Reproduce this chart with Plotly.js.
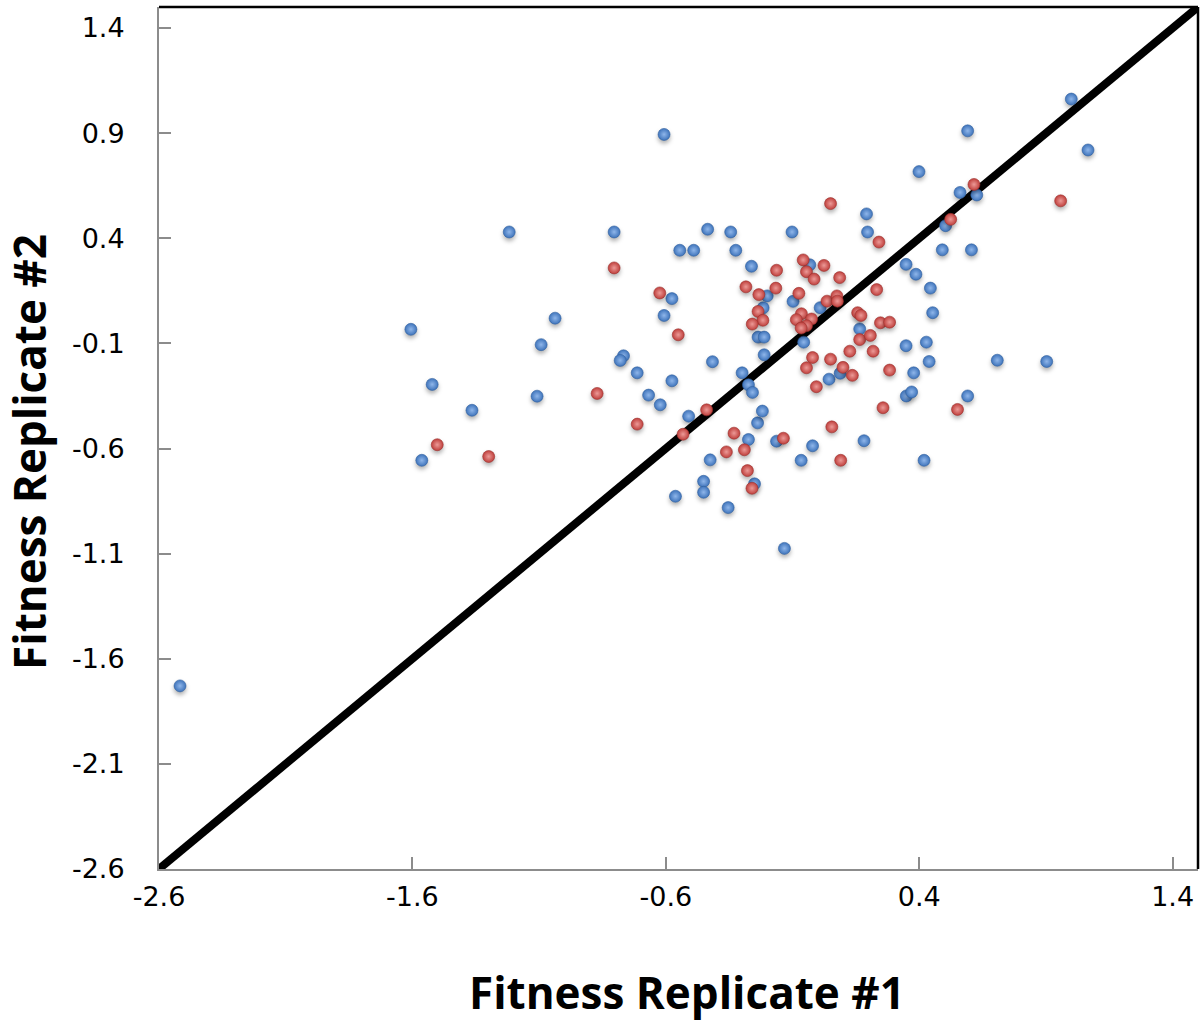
<!DOCTYPE html>
<html>
<head>
<meta charset="utf-8">
<script src="https://cdn.plot.ly/plotly-3.0.1.min.js"></script>
<style>
  html, body { margin: 0; padding: 0; background: #ffffff; }
  #chart { width: 1204px; height: 1022px; }
  /* soft shadow under each marker */
  .scatterlayer .points path { filter: drop-shadow(0px 3px 2px rgba(0,0,0,0.30)); }
</style>
</head>
<body>
<div id="chart"></div>
<script>
// Replicate-1 vs replicate-2 fitness, first group (blue)
const blueX = [-2.517, -1.606, -1.522, -1.563, -1.365, -1.218, -1.037, -1.092, -1.108, -0.804,
  -0.607, -0.767, -0.780, -0.713, -0.668, -0.622, -0.607, -0.576, -0.576, -0.545,
  -0.490, -0.435, -0.416, -0.510, -0.562, -0.451, -0.451, -0.425, -0.354, -0.344,
  -0.324, -0.299, -0.274, -0.258, -0.262, -0.274, -0.238, -0.250, -0.219, -0.236,
  -0.212, -0.212, -0.200, -0.216, -0.163, -0.132, -0.102, -0.098, -0.066, -0.056,
  -0.021, 0.009, 0.044, 0.088, 0.165, 0.182, 0.192, 0.196, 0.348, 0.348,
  0.378, 0.387, 0.399, 0.428, 0.439, 0.444, 0.453, 0.349, 0.370, 0.419,
  0.504, 0.491, 0.561, 0.591, 0.606, 0.627, 0.591, 0.708, 0.903, 1.000,
  1.066, -0.032];
const blueY = [-1.729, -0.033, -0.295, -0.656, -0.418, 0.430, 0.020, -0.106, -0.351, 0.430,
  0.894, -0.159, -0.181, -0.240, -0.346, -0.392, 0.033, 0.113, -0.278, 0.343,
  0.343, 0.443, -0.187, -0.446, -0.827, -0.756, -0.808, -0.654, -0.881, 0.430,
  0.343, -0.240, -0.297, -0.333, 0.267, -0.557, -0.478, -0.768, -0.422, -0.070,
  -0.070, -0.154, 0.126, 0.069, -0.565, -1.075, 0.430, 0.100, -0.656, -0.094,
  -0.587, 0.070, -0.270, -0.242, -0.031, -0.563, 0.516, 0.430, 0.276, -0.111,
  -0.240, 0.229, 0.717, -0.094, -0.186, 0.163, 0.046, -0.350, -0.331, -0.656,
  0.460, 0.345, 0.618, 0.911, 0.345, 0.606, -0.350, -0.180, -0.186, 1.062,
  0.820, 0.274];

// Second group (red)
const redX = [-1.502, -1.299, -0.871, -0.804, -0.713, -0.624, -0.551, -0.532, -0.439, -0.361,
  -0.331, -0.290, -0.278, -0.260, -0.136, -0.284, -0.233, -0.236, -0.217, -0.259,
  -0.163, -0.166, -0.075, -0.058, -0.045, -0.015, 0.024, 0.050, 0.086, 0.036,
  0.075, 0.077, -0.065, -0.085, -0.025, -0.045, -0.066, -0.021, 0.050, -0.045,
  0.099, 0.136, -0.006, 0.055, 0.090, 0.157, 0.170, 0.165, 0.207, 0.126,
  0.218, 0.241, 0.232, 0.247, 0.283, 0.283, 0.257, 0.524, 0.551, 0.616,
  0.958];
const redY = [-0.582, -0.638, -0.338, 0.259, -0.484, 0.140, -0.059, -0.532, -0.416, -0.616,
  -0.527, -0.606, -0.705, -0.789, -0.551, 0.169, 0.132, 0.052, 0.010, -0.008,
  0.248, 0.163, 0.138, 0.297, 0.241, 0.206, 0.271, 0.565, 0.213, 0.101,
  0.126, 0.101, 0.041, 0.013, 0.016, -0.016, -0.027, -0.167, -0.175, -0.216,
  -0.214, -0.252, -0.306, -0.497, -0.656, 0.046, 0.033, -0.082, -0.062, -0.137,
  -0.137, 0.382, 0.156, -0.002, 0.001, -0.227, -0.406, 0.490, -0.414, 0.656,
  0.578];

// y = x reference line across the full range
const diagX = [-2.6, 1.5];
const diagY = [-2.6, 1.5];

// Tick values
const tickVals = [-2.6, -2.1, -1.6, -1.1, -0.6, -0.1, 0.4, 0.9, 1.4];
const xTickVals = [-2.6, -1.6, -0.6, 0.4, 1.4];

const ballMarker = (edge, centre, rim) => ({
  size: 12,
  color: edge,
  gradient: { type: 'radial', color: centre },
  line: { color: rim, width: 0.6 }
});

const traces = [
  { x: diagX, y: diagY, type: 'scatter', mode: 'lines',
    line: { color: '#000000', width: 8 }, hoverinfo: 'skip', showlegend: false },
  { x: blueX, y: blueY, type: 'scatter', mode: 'markers', name: 'Group A',
    marker: ballMarker('#3f74bb', '#8fb6ea', '#2f5f9f'), showlegend: false },
  { x: redX, y: redY, type: 'scatter', mode: 'markers', name: 'Group B',
    marker: ballMarker('#bf3f3c', '#ec9a97', '#9c302d'), showlegend: false }
];

const tickFont = { family: 'DejaVu Sans, sans-serif', size: 27, color: '#000000' };
const titleFont = { family: 'Open Sans, sans-serif', size: 44, color: '#000000', weight: 700 };

const layout = {
  width: 1204,
  height: 1022,
  margin: { l: 159, r: 6, t: 7, b: 153, pad: 0 },
  paper_bgcolor: '#ffffff',
  plot_bgcolor: '#ffffff',
  showlegend: false,
  xaxis: {
    range: [-2.6, 1.5],
    tickmode: 'array',
    tickvals: xTickVals,
    ticktext: xTickVals.map(v => v.toFixed(1)),
    ticks: 'inside', ticklen: 12, tickwidth: 2, tickcolor: '#8c8c8c',
    showline: true, linecolor: '#8c8c8c', linewidth: 2,
    showgrid: false, zeroline: false,
    tickfont: tickFont,
    ticklabelstandoff: 3
  },
  yaxis: {
    range: [-2.6, 1.5],
    tickmode: 'array',
    tickvals: tickVals,
    ticktext: tickVals.map(v => v.toFixed(1)),
    ticks: 'inside', ticklen: 12, tickwidth: 2, tickcolor: '#8c8c8c',
    showline: true, linecolor: '#8c8c8c', linewidth: 2,
    showgrid: false, zeroline: false,
    tickfont: tickFont,
    ticklabelstandoff: 27
  },
  shapes: [
    // black frame on the top and right edges of the plot area
    { type: 'line', xref: 'paper', yref: 'paper', x0: 0, x1: 1, y0: 1, y1: 1,
      line: { color: '#000000', width: 2.5 } },
    { type: 'line', xref: 'paper', yref: 'paper', x0: 1, x1: 1, y0: 0, y1: 1,
      line: { color: '#000000', width: 2.5 } }
  ],
  annotations: [
    { text: 'Fitness Replicate #1', xref: 'paper', yref: 'paper',
      x: 0.508, y: -0.1427, xanchor: 'center', yanchor: 'middle',
      showarrow: false, font: titleFont },
    { text: 'Fitness Replicate #2', xref: 'paper', yref: 'paper',
      x: -0.125, y: 0.484, xanchor: 'center', yanchor: 'middle', textangle: -90,
      showarrow: false, font: titleFont }
  ]
};

Plotly.newPlot('chart', traces, layout, { displayModeBar: false, staticPlot: true });
</script>
</body>
</html>
